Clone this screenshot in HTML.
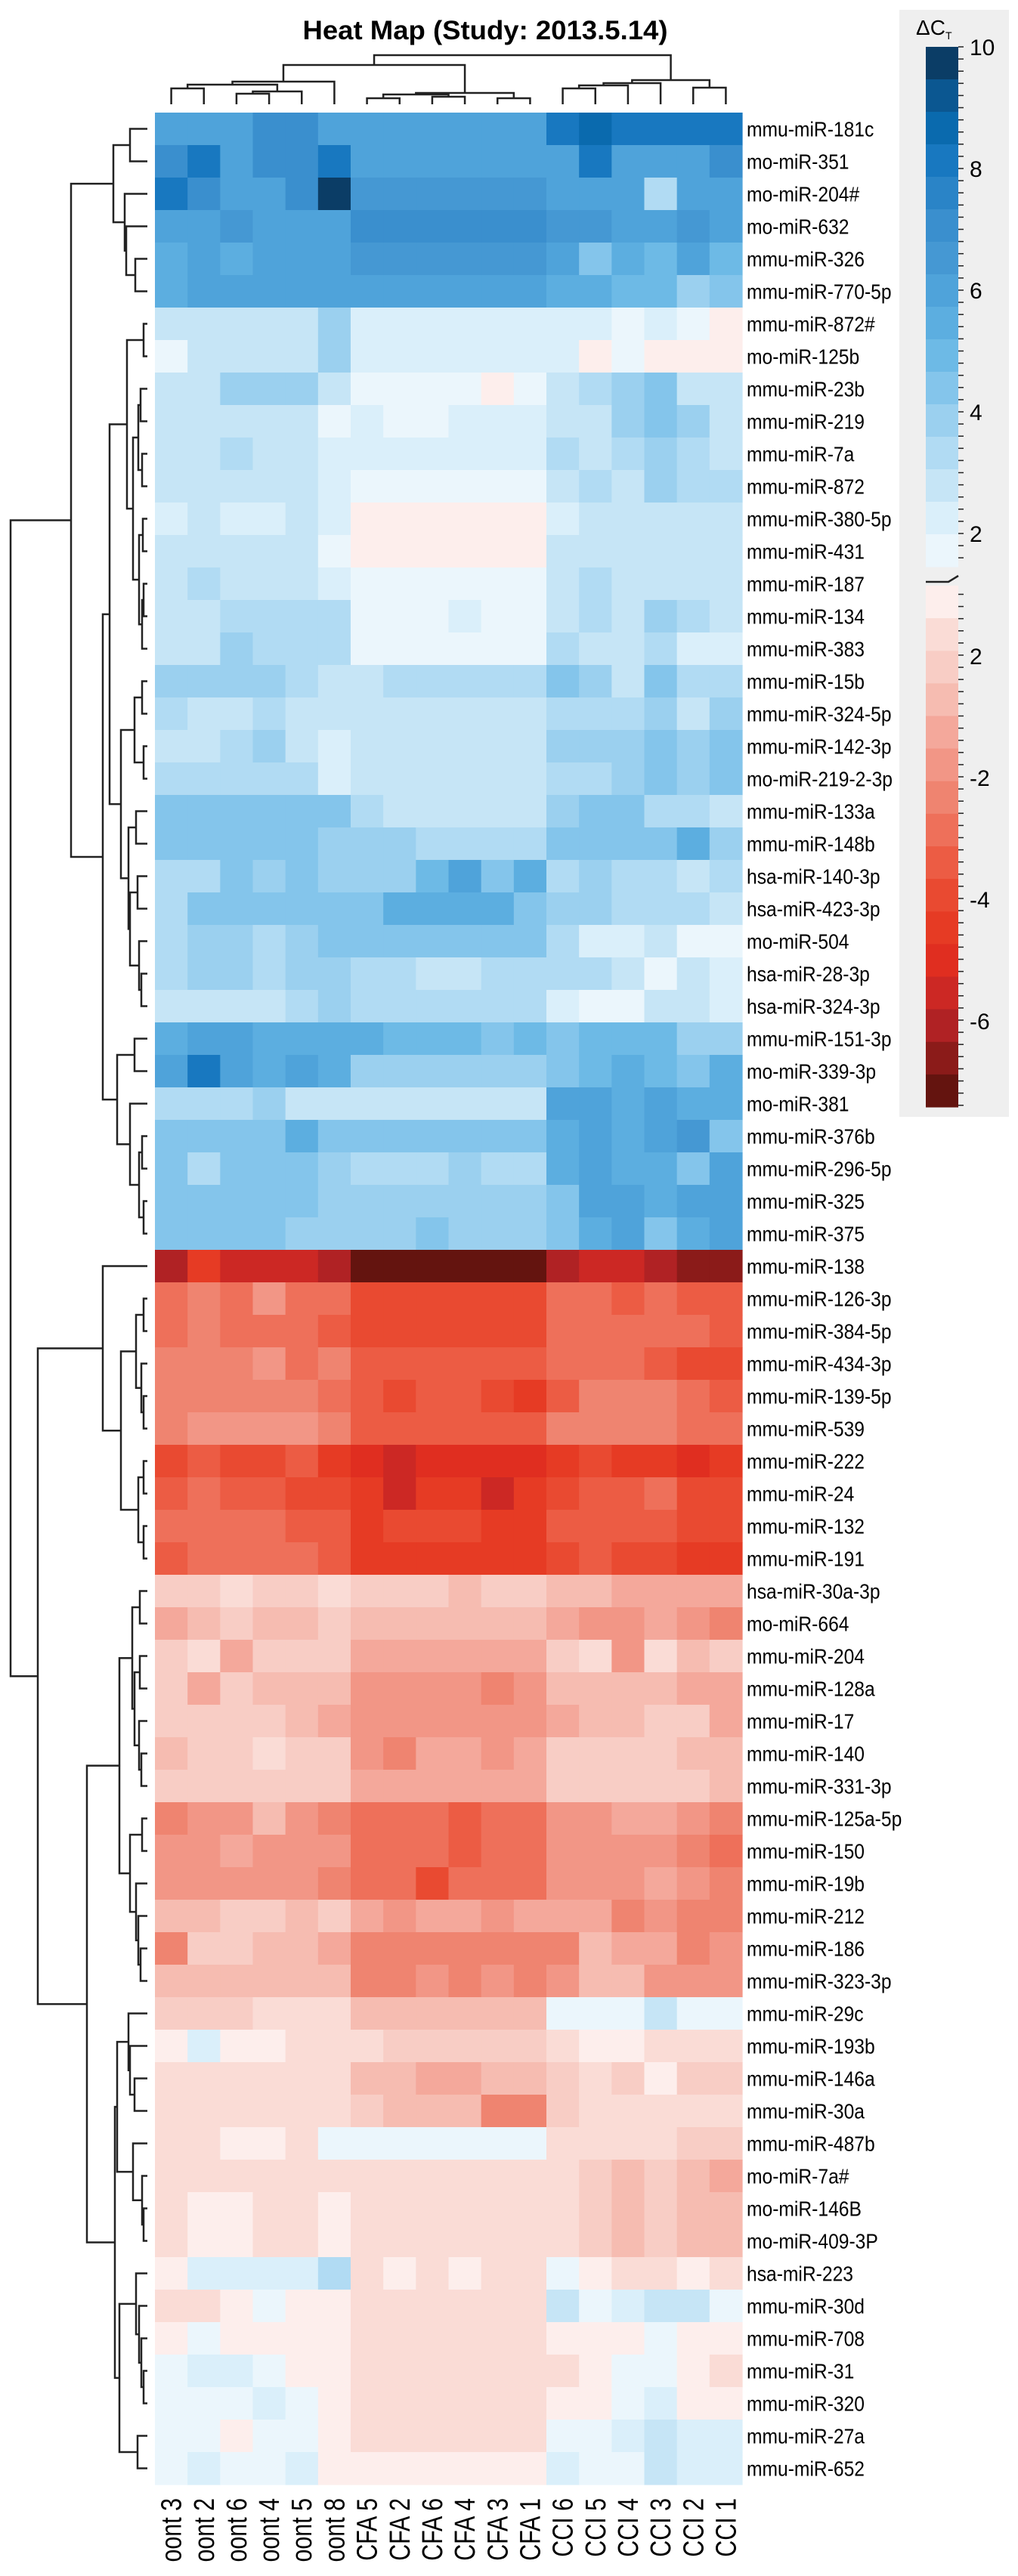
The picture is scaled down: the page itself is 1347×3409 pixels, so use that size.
<!DOCTYPE html>
<html><head><meta charset="utf-8"><style>
html,body{margin:0;padding:0;background:#fff;}
svg{display:block;font-family:"Liberation Sans",Arial,sans-serif;}
</style></head><body>
<svg id="chart" width="1347" height="3409" viewBox="0 0 1347 3409" xmlns="http://www.w3.org/2000/svg">
<rect x="0" y="0" width="1347" height="3409" fill="#fff"/>
<text x="642" y="52" text-anchor="middle" font-size="35" font-weight="bold" textLength="483" lengthAdjust="spacingAndGlyphs">Heat Map (Study: 2013.5.14)</text>
<g id="cells"></g><g id="rowlabels"></g><g id="collabels"></g><g id="rowdend"></g><g id="coldend"></g><g id="legend"></g>
</svg>
<script>
const rowLabels = ["mmu-miR-181c","mo-miR-351","mo-miR-204#","mo-miR-632","mmu-miR-326","mmu-miR-770-5p","mmu-miR-872#","mo-miR-125b","mmu-miR-23b","mmu-miR-219","mmu-miR-7a","mmu-miR-872","mmu-miR-380-5p","mmu-miR-431","mmu-miR-187","mmu-miR-134","mmu-miR-383","mmu-miR-15b","mmu-miR-324-5p","mmu-miR-142-3p","mo-miR-219-2-3p","mmu-miR-133a","mmu-miR-148b","hsa-miR-140-3p","hsa-miR-423-3p","mo-miR-504","hsa-miR-28-3p","hsa-miR-324-3p","mmu-miR-151-3p","mo-miR-339-3p","mo-miR-381","mmu-miR-376b","mmu-miR-296-5p","mmu-miR-325","mmu-miR-375","mmu-miR-138","mmu-miR-126-3p","mmu-miR-384-5p","mmu-miR-434-3p","mmu-miR-139-5p","mmu-miR-539","mmu-miR-222","mmu-miR-24","mmu-miR-132","mmu-miR-191","hsa-miR-30a-3p","mo-miR-664","mmu-miR-204","mmu-miR-128a","mmu-miR-17","mmu-miR-140","mmu-miR-331-3p","mmu-miR-125a-5p","mmu-miR-150","mmu-miR-19b","mmu-miR-212","mmu-miR-186","mmu-miR-323-3p","mmu-miR-29c","mmu-miR-193b","mmu-miR-146a","mmu-miR-30a","mmu-miR-487b","mo-miR-7a#","mo-miR-146B","mo-miR-409-3P","hsa-miR-223","mmu-miR-30d","mmu-miR-708","mmu-miR-31","mmu-miR-320","mmu-miR-27a","mmu-miR-652"];
const colLabels = ["oont 3","oont 2","oont 6","oont 4","oont 5","oont 8","CFA 5","CFA 2","CFA 6","CFA 4","CFA 3","CFA 1","CCI 6","CCI 5","CCI 4","CCI 3","CCI 2","CCI 1"];
const values = [
[6.3,6.3,6.3,7,7,6.3,6.3,5.8,6.3,5.8,6.3,6.3,8.5,9,8,8.5,8,8],
[7,8,6.3,7,7,8.5,5.8,5.8,5.8,5.8,5.8,5.8,6.3,8.5,6.3,6.3,6.3,7],
[8,7,6.3,5.8,7,9.8,6.5,6.5,6.5,6.5,6.5,6.5,5.8,5.8,5.8,3.5,6.3,6.3],
[5.8,5.8,6.5,6.3,6.3,6.3,7,7,7,7,7,7,6.8,6.8,6.3,6.3,6.8,5.8],
[5.3,5.8,5.3,5.8,5.8,6.3,6.5,6.5,6.5,6.5,6.5,6.5,5.8,4.5,5.3,4.8,5.8,4.8],
[5.3,5.8,6.3,6.3,5.8,6.3,6.3,6.3,6.3,6.3,6.3,6.3,5.3,5.3,4.8,4.8,3.6,4.5],
[2.6,3,3,2.6,2.6,3.6,2.4,2.4,2.4,2.4,2.4,2.4,2.4,2.4,1.5,2.2,1.5,-0.1],
[1.8,3,3,2.6,3,3.6,2.4,2.4,2.4,2.4,2.4,2.4,2.4,-0.1,1.5,-0.1,-0.1,-0.1],
[2.6,3,3.6,3.6,3.6,3,1.8,1.8,1.8,1.8,-0.1,1.8,3,3.2,3.8,4.3,3,2.6],
[3,3,2.6,3,3,1.5,2.4,1.6,1.6,2.4,2.4,2.4,3,3,3.6,4.3,3.6,3],
[2.8,2.8,3.2,2.8,2.8,2.4,2.4,2.4,2.4,2.4,2.4,2.4,3.2,2.8,3.2,3.6,3.2,2.6],
[2.8,2.8,2.8,2.8,2.8,2.4,1.6,1.6,1.6,1.6,1.6,1.6,3,3.2,2.8,3.6,3.2,3.2],
[2.4,2.8,2.4,2.4,2.8,2.4,-0.1,-0.1,-0.1,-0.1,-0.1,-0.1,2.4,2.8,2.8,2.6,2.6,2.6],
[2.8,2.8,2.8,2.8,2.8,1.6,-0.1,-0.1,-0.1,-0.1,-0.1,-0.1,2.6,2.8,2.8,2.8,2.8,2.8],
[2.8,3.2,2.8,3,2.8,2.4,1.6,1.6,1.6,1.6,1.6,1.6,2.6,3.2,2.8,2.8,2.8,2.6],
[2.8,2.8,3.2,3.2,3.2,3.2,1.6,1.6,1.6,2.4,1.6,1.6,3,3.2,2.8,3.6,3.2,2.6],
[2.8,2.8,3.6,3.2,3.2,3.2,1.6,1.6,1.6,1.6,1.6,1.6,3.2,2.8,2.8,3.2,2.2,2.4],
[3.6,3.6,3.6,3.8,3.2,3,3,3.2,3.2,3.2,3.2,3.2,4.3,3.6,3,4.3,3.2,3.2],
[3.2,2.8,2.8,3.2,2.8,2.8,2.8,2.8,2.8,2.8,2.8,2.8,3.2,3.2,3.2,3.6,3,3.6],
[2.8,2.8,3.2,3.6,3,2.2,2.8,2.8,2.8,2.8,2.8,2.8,3.6,3.6,3.6,4.3,3.6,4.3],
[3.2,3.2,3.2,3.2,3.2,2.2,2.8,2.8,2.8,2.8,2.8,2.8,3.2,3.2,3.6,4.6,3.6,4.3],
[4.3,4.3,4.6,4.6,4.3,4.3,3.2,2.8,2.8,2.8,2.8,2.8,3.8,4.3,4.3,3.4,3.4,2.8],
[4.3,4.3,4.3,4.3,4.3,3.6,3.6,3.6,3.2,3.2,3.2,3.2,4.6,4.6,4.6,4.6,5.3,3.6],
[3.2,3.2,4.6,3.8,4.6,4,4,4,5,5.8,4.3,5.3,3.2,3.6,3.2,3.2,2.6,3.2],
[3.2,4.6,4.6,4.6,4.3,4.6,4.6,5.3,5.3,5.3,5.3,4.6,3.8,3.8,3.2,3.2,3.2,2.8],
[3.2,3.6,3.6,3.2,3.6,4.3,4.3,4.3,4.3,4.3,4.3,4.3,3.2,2.4,2.4,3,1.8,1.8],
[3.2,3.6,3.6,3.2,3.6,3.6,3.2,3.2,2.6,2.6,3.2,3.2,3.2,3.2,2.6,1.6,2.6,2.2],
[3,3,3,3,3.2,3.6,3.2,3.2,3.2,3.2,3.2,3.2,2.2,1.8,1.8,2.6,2.6,2.2],
[5.3,6.3,5.8,5.3,5.3,5.3,5.3,4.8,4.8,4.8,4.3,4.8,4.3,4.8,4.8,4.8,3.6,3.6],
[6.3,8,6.3,5.3,6.3,5.3,3.6,3.6,3.6,3.6,3.6,3.6,4.3,4.8,5.3,4.8,4.3,5.3],
[3.2,3.2,3.2,3.6,3,2.8,2.8,2.8,2.8,2.8,2.8,2.8,6.3,5.8,5.3,6.3,5.3,5.3],
[4.3,4.3,4.3,4.6,5.3,4.3,4.3,4.3,4.3,4.3,4.3,4.3,5.3,6.3,5.3,6.3,6.8,4.6],
[4.6,3.2,4.6,4.6,4.3,3.6,3.2,3.2,3.2,3.6,3.2,3.2,5.3,5.8,5.3,5.3,4.6,5.8],
[4.6,4.6,4.6,4.3,4.3,3.8,3.8,3.8,3.8,3.8,3.8,3.8,4.6,6.3,6.3,5.3,6.3,5.8],
[4.6,4.6,4.6,4.6,3.8,3.8,3.8,3.8,4.3,3.8,3.8,3.8,4.3,5.3,6.3,4.6,5.3,5.8],
[-6.6,-5.3,-6.1,-6.1,-6.1,-6.6,-7.8,-7.8,-7.8,-7.8,-7.8,-7.8,-6.6,-6.1,-6.1,-6.6,-7.1,-7.1],
[-3.8,-3.3,-3.8,-2.8,-3.8,-3.8,-4.8,-4.8,-4.8,-4.8,-4.8,-4.8,-3.8,-3.8,-4.3,-3.8,-4.3,-4.3],
[-3.8,-3.3,-3.8,-3.8,-3.8,-4.3,-4.8,-4.8,-4.8,-4.8,-4.8,-4.8,-3.8,-3.8,-3.8,-3.8,-3.8,-4.3],
[-3.3,-3.3,-3.3,-2.8,-3.8,-3,-4.3,-4.3,-4.3,-4.3,-4.3,-4.3,-3.8,-3.8,-3.8,-4.3,-4.8,-4.8],
[-3.3,-3.3,-3.3,-3.3,-3.3,-3.8,-4.3,-4.8,-4.3,-4.3,-4.8,-5.3,-4.3,-3.3,-3.3,-3.3,-3.8,-4.3],
[-3.3,-2.8,-2.8,-2.8,-2.8,-3.3,-4.3,-4.3,-4.3,-4.3,-4.3,-4.3,-3.3,-3.3,-3.3,-3.3,-3.8,-3.8],
[-4.8,-4.3,-4.8,-4.8,-4.3,-5.3,-5.8,-6.3,-5.8,-5.8,-5.8,-5.8,-5.3,-4.8,-5.3,-5.3,-5.8,-5.3],
[-4.3,-3.8,-4.3,-4.3,-4.8,-4.8,-5.3,-6.1,-5.3,-5.3,-6.1,-5.3,-4.8,-4.3,-4.3,-3.8,-4.8,-4.8],
[-3.8,-3.8,-3.8,-3.8,-4.3,-4.3,-5.3,-4.8,-4.8,-4.8,-5.3,-5.3,-4.3,-4.3,-4.3,-4.3,-4.8,-4.8],
[-4.3,-3.8,-3.8,-3.8,-3.8,-4.3,-5.3,-5.3,-5.3,-5.3,-5.3,-5.3,-4.8,-4.3,-4.8,-4.8,-5.3,-5.3],
[-1.1,-1.1,-0.6,-1.1,-1.1,-0.6,-1.1,-1.1,-1.1,-1.6,-1.1,-1.1,-1.6,-1.6,-2.3,-2.3,-2.3,-2.3],
[-2.3,-1.6,-1.1,-1.6,-1.6,-1.1,-1.6,-1.6,-1.6,-1.6,-1.6,-1.6,-2.3,-2.8,-2.8,-2.3,-2.8,-3.3],
[-1.3,-0.9,-2.3,-1.1,-1.1,-1.3,-2.3,-2.3,-2.3,-2.3,-2.3,-2.3,-1.3,-0.9,-2.6,-0.9,-1.6,-1.1],
[-1.3,-2.3,-1.1,-1.6,-1.6,-1.6,-2.6,-2.6,-2.6,-2.6,-3.1,-2.6,-1.6,-1.6,-1.6,-1.6,-2.3,-2.3],
[-1.1,-1.1,-1.1,-1.1,-1.6,-2.3,-2.6,-2.6,-2.6,-2.6,-2.6,-2.6,-2.3,-1.6,-1.6,-1.1,-1.3,-2.3],
[-1.6,-1.1,-1.1,-0.8,-1.1,-1.1,-2.6,-3.1,-2.3,-2.3,-2.6,-2.1,-1.1,-1.1,-1.1,-1.1,-1.6,-1.6],
[-1.1,-1.1,-1.1,-1.1,-1.3,-1.3,-2.3,-2.3,-2.3,-2.3,-2.3,-2.3,-1.3,-1.1,-1.1,-1.1,-1.3,-1.6],
[-3.3,-2.6,-2.6,-1.6,-2.6,-3.3,-3.8,-3.8,-3.8,-4.3,-3.8,-3.8,-2.8,-2.8,-2.3,-2.3,-2.8,-3.3],
[-2.8,-2.8,-2.3,-2.8,-2.8,-2.8,-3.8,-3.8,-3.8,-4.3,-3.8,-3.8,-2.8,-2.8,-2.8,-2.8,-3.3,-3.8],
[-2.8,-2.8,-2.8,-2.8,-2.8,-3.3,-3.8,-3.8,-4.8,-3.8,-3.8,-3.8,-2.8,-2.8,-2.8,-2.3,-2.8,-3.3],
[-1.6,-1.6,-1.1,-1.1,-1.6,-1.1,-2.3,-2.8,-2.3,-2.3,-2.8,-2.3,-2.3,-2.3,-3.3,-2.8,-3.3,-3.3],
[-3.3,-1.3,-1.3,-1.6,-1.6,-2.3,-3.3,-3.3,-3.3,-3.3,-3.3,-3.3,-3.3,-1.6,-2.3,-2.3,-3.3,-2.8],
[-1.6,-1.6,-1.6,-1.6,-1.6,-1.6,-3.3,-3.3,-2.8,-3.3,-2.8,-3.3,-2.8,-1.6,-1.6,-2.8,-2.8,-2.8],
[-1.1,-1.1,-1.1,-0.6,-0.8,-0.8,-1.6,-1.6,-1.6,-1.6,-1.6,-1.6,1.8,1.8,1.8,2.6,1.8,1.8],
[-0.2,2.2,-0.2,-0.2,-0.8,-0.8,-0.8,-1.1,-1.1,-1.1,-1.1,-1.1,-0.8,-0.2,-0.2,-0.9,-0.9,-0.9],
[-0.6,-0.6,-0.6,-0.6,-0.6,-0.6,-1.6,-1.6,-2.3,-2.3,-1.6,-1.6,-1.1,-0.6,-1.1,-0.1,-1.1,-1.1],
[-0.8,-0.8,-0.8,-0.8,-0.8,-0.8,-1.1,-1.6,-1.6,-1.6,-3.3,-3.3,-1.1,-0.6,-0.6,-0.6,-0.6,-0.6],
[-0.6,-0.6,-0.2,-0.2,-0.6,1.8,1.8,1.8,1.8,1.8,1.8,1.8,-0.8,-0.8,-0.8,-0.8,-1.1,-1.1],
[-0.8,-0.8,-0.6,-0.6,-0.6,-0.6,-0.6,-0.6,-0.6,-0.6,-0.6,-0.6,-0.6,-1.1,-1.6,-1.1,-1.6,-2.3],
[-0.8,-0.4,-0.2,-0.6,-0.6,-0.2,-0.6,-0.6,-0.6,-0.6,-0.6,-0.6,-0.6,-1.1,-1.6,-1.1,-1.6,-1.6],
[-0.8,-0.4,-0.2,-0.6,-0.6,-0.2,-0.6,-0.6,-0.6,-0.6,-0.6,-0.6,-0.6,-1.1,-1.6,-1.1,-1.6,-1.6],
[-0.2,2.4,2.4,2.4,2.4,3.2,-0.6,-0.4,-0.6,-0.4,-0.6,-0.6,1.8,-0.2,-0.6,-0.8,-0.2,-0.6],
[-0.6,-0.6,-0.2,1.8,-0.2,-0.2,-0.6,-0.6,-0.6,-0.6,-0.6,-0.6,2.6,1.8,2.4,2.6,2.6,1.8],
[-0.2,1.8,-0.2,-0.2,-0.2,-0.2,-0.6,-0.6,-0.6,-0.6,-0.6,-0.6,-0.2,-0.2,-0.2,1.8,-0.2,-0.2],
[1.8,2.4,2.4,1.8,-0.2,-0.2,-0.6,-0.6,-0.6,-0.6,-0.6,-0.6,-0.6,-0.2,1.8,1.8,-0.2,-0.6],
[1.8,1.8,1.8,2.4,1.8,-0.2,-0.6,-0.6,-0.6,-0.6,-0.6,-0.6,-0.2,-0.2,1.8,2.4,-0.2,-0.2],
[1.8,1.8,-0.2,1.8,1.8,-0.2,-0.6,-0.8,-0.6,-0.6,-0.6,-0.6,1.8,1.8,2.4,2.6,2.4,2.4],
[1.8,2.4,1.8,1.8,2.4,-0.2,-0.2,-0.2,-0.2,-0.2,-0.2,-0.2,2.4,1.8,1.8,2.6,2.4,2.4]
];
const legendTicks = ["10","8","6","4","2"];
const legendTicksNeg = ["2","-2","-4","-6"];
const blues = ['#0b3d66','#0b5791','#0a6aae','#1878c0','#2a84c7','#3a8fce','#4598d3','#4fa3da','#5caee0','#6dbae6','#84c5eb','#9bd0ef','#b1dbf3','#c6e5f6','#daeffa','#ebf6fc'];
const reds = ['#fdeeec','#fadcd6','#f8cdc5','#f6bcb1','#f4a89b','#f29686','#ef8470','#ee705a','#ec5c44','#e94a31','#e63b24','#e02e20','#cc2824','#b02224','#8b1b19','#64140f'];

const NS = "http://www.w3.org/2000/svg";
const X0 = 205, X1 = 982, Y0 = 149, RH = 43;
const CW = (X1 - X0) / colLabels.length;
const xScale = i => X0 + CW * i;
const yScale = i => Y0 + RH * i;
function colorOf(v){
  if (v >= 0){ let i = Math.floor((10 - v) / 0.55 + 0.3); i = Math.max(0, Math.min(15, i)); return blues[i]; }
  let i = Math.floor(-v / 0.5); i = Math.max(0, Math.min(15, i)); return reds[i];
}
function mk(tag, attrs, parent){ const e = document.createElementNS(NS, tag); for (const k in attrs) e.setAttribute(k, attrs[k]); parent.appendChild(e); return e; }

const cells = document.getElementById('cells');
values.forEach((row, r) => row.forEach((v, c) => {
  const e = mk('rect', {x: xScale(c).toFixed(2), y: yScale(r), width: (CW + 0.6).toFixed(2), height: RH + 0.6, fill: colorOf(v)}, cells);
  
  
}));

const rl = document.getElementById('rowlabels');
rowLabels.forEach((t, r) => {
  const e = mk('text', {x: 0, y: 0, 'font-size': 28, transform: `translate(988,${yScale(r) + RH / 2 + 10}) scale(0.88,1)`}, rl);
  e.textContent = t;
  
  
});
const cl = document.getElementById('collabels');
colLabels.forEach((t, c) => {
  const cx = xScale(c) + CW / 2 + 13;
  const e = mk('text', {x: 0, y: 0, 'font-size': 38, 'text-anchor': 'end', transform: `translate(${cx.toFixed(1)},3306) rotate(-90) scale(0.8,1)`}, cl);
  e.textContent = t;
  
  
});

const rowTree = [
  [[[0,1,172],[2,[3,[4,5,179],167],165],150],
   [[[[6,7,190],[[[8,9,186],[10,11,188],183],[[12,13,189],[[14,15,190],16,188],184],176],168],
     [[[17,18,188],[19,20,190],178],[[21,22,180],[[23,24,182],[25,[26,27,187],184],172],170],160],145],
    [[28,29,178],[30,[[31,32,188],[33,34,190],184],172],155],136],94],
  [[35,[[[36,37,190],[38,[39,40,190],187],180],[[41,42,190],[43,44,190],183],160],136],
   [[[[45,46,185],[[47,48,185],[49,[50,51,187],184],178],175],[[52,53,188],[54,[55,[56,57,186],183],180],172],158],
    [[[58,[59,[60,61,178],172],170],[62,[63,[64,65,190],188],176],155],
     [[66,[67,[68,[69,70,190],187],184],180],[71,72,182],158],152],115],50],14];
const colTree = [[[[[0,1,117],[[2,3,124],4,121],112],5,108],[[[6,7,130],[8,9,128],125],[10,11,130],123],86],[[[[12,13,117],14,113],15,110],[16,17,116],106],73];

function drawTree(node, leafPos, leafH, horiz, g){
  if (typeof node === 'number') return {p: leafPos(node), h: leafH};
  const a = drawTree(node[0], leafPos, leafH, horiz, g);
  const b = drawTree(node[1], leafPos, leafH, horiz, g);
  const h = node[2];
  let d;
  if (horiz) d = `M${a.h},${a.p}H${h}V${b.p}H${b.h}`;
  else d = `M${a.p},${a.h}V${h}H${b.p}V${b.h}`;
  const e = mk('path', {d: d, fill: 'none', stroke: '#222', 'stroke-width': 2.5}, g);
  
  
  return {p: (a.p + b.p) / 2, h: h};
}
const rd = document.getElementById('rowdend');


drawTree(rowTree, i => yScale(i) + RH / 2, 195, true, rd);
const cd = document.getElementById('coldend');


drawTree(colTree, i => xScale(i) + CW / 2, 138, false, cd);

const lg = document.getElementById('legend');


mk('rect', {x: 1190, y: 13, width: 145, height: 1465, fill: '#efefef'}, lg);
const BX = 1225, BW = 43, BT = 62, BB = 750, RT = 775, RB = 1465;
const unit = 80.5;
blues.forEach((c, i) => {
  const seg = (BB - BT) / blues.length;
  const e = mk('rect', {x: BX, y: (BT + i * seg).toFixed(1), width: BW, height: (seg + 0.5).toFixed(1), fill: c}, lg);
  
  
});
reds.forEach((c, i) => {
  const seg = (RB - RT) / reds.length;
  const e = mk('rect', {x: BX, y: (RT + i * seg).toFixed(1), width: BW, height: (seg + 0.5).toFixed(1), fill: c}, lg);
  
  
});
mk('path', {d: `M${BX},770H${BX+30}L${BX+BW},762`, stroke: '#222', 'stroke-width': 2.5, fill: 'none'}, lg);
for (let y = BT; y <= RB; y += unit / 5) {
  if (y > BB + 2 && y < RT) continue;
  mk('line', {x1: BX + BW, x2: BX + BW + 7, y1: y.toFixed(1), y2: y.toFixed(1), stroke: '#222', 'stroke-width': 1.5}, lg);
}
legendTicks.forEach((t, i) => {
  const e = mk('text', {x: 1283, y: BT + i * 2 * unit + 11, 'font-size': 30}, lg);
  e.textContent = t;
  
  
});
legendTicksNeg.forEach((t, i) => {
  const e = mk('text', {x: 1283, y: 868 + i * 2 * unit + 11, 'font-size': 30}, lg);
  e.textContent = t;
  
  
});
const lt = mk('text', {x: 1212, y: 46, 'font-size': 28}, lg);
lt.innerHTML = 'ΔC<tspan font-size="14" dy="6">T</tspan>';


</script>
</body></html>
